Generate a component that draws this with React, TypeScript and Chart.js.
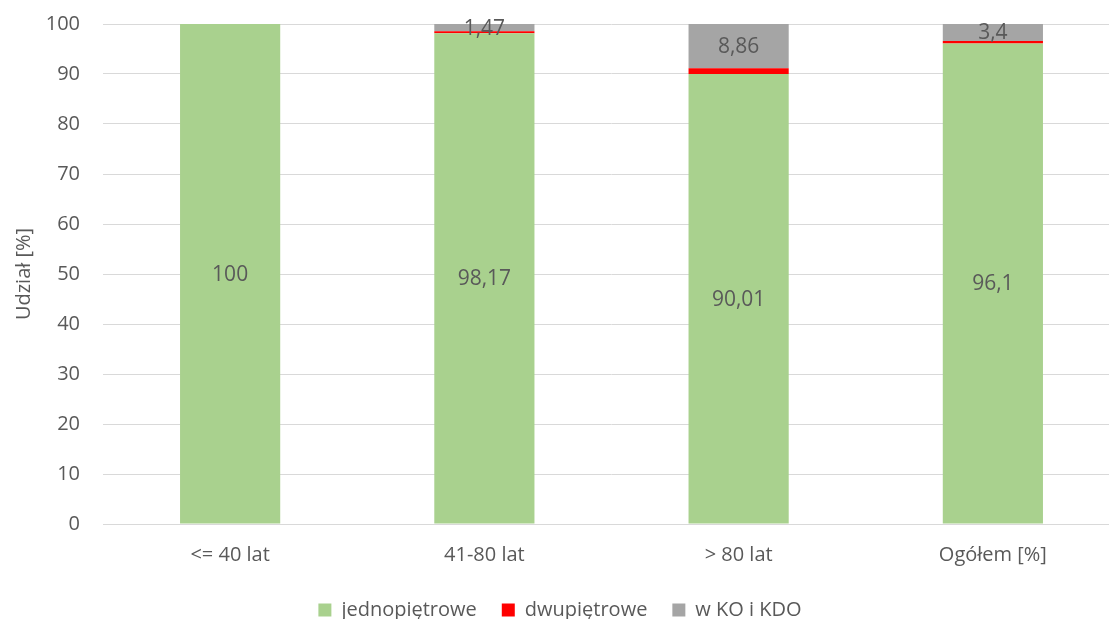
import React, { useEffect, useRef } from "react";
import { Chart, registerables } from "chart.js";

Chart.register(...registerables);

const categories = ["<= 40 lat", "41-80 lat", "> 80 lat", "Ogółem [%]"];
const jednopietrowe = [100, 98.17, 90.01, 96.1];
const dwupietrowe = [0, 0.36, 1.13, 0.5];
const wKO = [0, 1.47, 8.86, 3.4];
const yTicks = [0, 10, 20, 30, 40, 50, 60, 70, 80, 90, 100];

const FONT = "'Open Sans', sans-serif";
const TEXT = "#595959";

const labelPlugin = {
  id: "segLabels",
  afterDatasetsDraw(chart: any) {
    const ctx = chart.ctx;
    ctx.save();
    ctx.font = `21px ${FONT}`;
    ctx.fillStyle = TEXT;
    ctx.textAlign = "center";
    ctx.textBaseline = "middle";
    chart.data.datasets.forEach((ds: any, di: number) => {
      if (ds.showLabel === false) return;
      const meta = chart.getDatasetMeta(di);
      meta.data.forEach((bar: any, i: number) => {
        const v = ds.data[i];
        if (!v) return;
        const cy = (bar.y + bar.base) / 2;
        ctx.fillText(String(v).replace(".", ","), bar.x, cy + 1);
      });
    });
    ctx.restore();
  },
};

export default function App() {
  const ref = useRef<HTMLCanvasElement>(null);
  useEffect(() => {
    document.body.style.margin = "0";
    const chart = new Chart(ref.current!, {
      type: "bar",
      data: {
        labels: categories,
        datasets: [
          { label: "jednopiętrowe", data: jednopietrowe, backgroundColor: "#A9D18E", showLabel: true } as any,
          { label: "dwupiętrowe", data: dwupietrowe, backgroundColor: "#FF0000", showLabel: false } as any,
          { label: "w KO i KDO", data: wKO, backgroundColor: "#A5A5A5", showLabel: true } as any,
        ],
      },
      options: {
        responsive: false,
        animation: false,
        datasets: { bar: { categoryPercentage: 1, barPercentage: 0.394 } },
        layout: { padding: { top: 24, left: 0, right: 0, bottom: 0 } },
        scales: {
          x: {
            stacked: true,
            grid: { display: false },
            border: { color: "#D9D9D9" },
            ticks: { color: TEXT, font: { family: FONT, size: 20 }, padding: 11 },
            afterFit: (s: any) => { s.height = 51; },
          },
          y: {
            stacked: true,
            min: 0,
            max: 100,
            afterBuildTicks: (s: any) => { s.ticks = yTicks.map((v) => ({ value: v })); },
            grid: { color: "#D9D9D9", drawTicks: true, tickLength: 15, tickColor: "rgba(0,0,0,0)" },
            border: { display: false },
            ticks: { color: TEXT, font: { family: FONT, size: 20 }, padding: 8 },
            title: { display: true, text: "Udział [%]", color: TEXT, font: { family: FONT, size: 20 }, padding: { top: 12, bottom: 0 } },
            afterFit: (s: any) => { s.width = 103; },
          },
        },
        plugins: {
          legend: {
            position: "bottom",
            labels: { color: TEXT, font: { family: FONT, size: 20 }, boxWidth: 13, boxHeight: 13, padding: 25 },
          },
          tooltip: { enabled: false },
        },
      },
      plugins: [labelPlugin],
    });
    return () => chart.destroy();
  }, []);
  return (
    <div style={{ width: 1109, height: 619, overflow: "hidden", background: "#fff" }}>
      <canvas ref={ref} width={1120} height={630} style={{ display: "block" }} />
    </div>
  );
}
